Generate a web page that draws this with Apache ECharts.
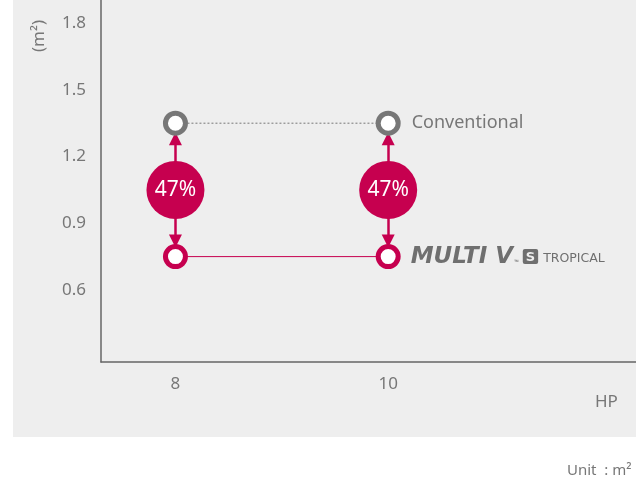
<!DOCTYPE html>
<html lang="en">
<head>
<meta charset="utf-8">
<script src="https://cdn.jsdelivr.net/npm/echarts@6/dist/echarts.min.js"></script>
<style>
  * { margin: 0; padding: 0; }
  body { background: #fff; }
</style>
</head>
<body>
<div id="main" style="width:636px;height:487px;"></div>
<script>
// data
var hpValues = [8, 10];
var conventional = [1.35, 1.35];
var multiV = [0.75, 0.75];
var saving = ['47%', '47%'];
var bubbleAt = [1.05, 1.05];
var arrowUpTo = [1.28, 1.28];
var arrowDownTo = [0.82, 0.82];
var yTicks = [0.6, 0.9, 1.2, 1.5, 1.8];

var RED = '#c6004f';
var GREY = '#777777';
var FONT = 'Noto Sans';

function pairs(ys) {
    return hpValues.map(function (x, i) { return [x, ys[i]]; });
}

var arrows = [];
hpValues.forEach(function (x, i) {
    arrows.push({ coords: [[x, bubbleAt[i]], [x, arrowUpTo[i]]] });
    arrows.push({ coords: [[x, bubbleAt[i]], [x, arrowDownTo[i]]] });
});

var myChart = echarts.init(document.getElementById('main'));

var ring = function (c) {
    return { color: '#fff', borderColor: c, borderWidth: 5 };
};

var option = {
    animation: false,
    textStyle: { fontFamily: FONT },
    grid: { left: 101, right: 0, top: 0, bottom: 125 },
    graphic: [
        { type: 'rect', z: -10, silent: true, shape: { x: 13, y: 0, width: 623, height: 437 }, style: { fill: '#eeeeee' } },
        { type: 'text', x: 31, y: 52, rotation: Math.PI / 2, style: { text: '(m²)', fill: GREY, font: '17px "Noto Sans"' } },
        { type: 'text', x: 595, y: 394, style: { text: 'HP', fill: GREY, font: '17px "Noto Sans"' } },
        { type: 'text', x: 567, y: 463, style: { text: 'Unit  : m²', fill: GREY, font: '15px "Noto Sans"' } }
    ],
    xAxis: {
        type: 'value',
        min: 7.3,
        max: 12.33,
        axisLine: { lineStyle: { color: '#666', width: 1.5 } },
        axisTick: { show: false },
        splitLine: { show: false },
        axisLabel: { customValues: hpValues, color: GREY, fontSize: 17, margin: 14 }
    },
    yAxis: {
        type: 'value',
        min: 0.276,
        max: 1.904,
        axisLine: { show: true, lineStyle: { color: '#666', width: 1.5 } },
        axisTick: { show: false },
        splitLine: { show: false },
        axisLabel: {
            customValues: yTicks, color: GREY, fontSize: 17, margin: 15,
            formatter: function (v) { return v.toFixed(1); }
        }
    },
    series: [
        {
            type: 'lines',
            coordinateSystem: 'cartesian2d',
            data: arrows,
            symbol: ['none', 'triangle'],
            symbolSize: 13,
            lineStyle: { color: RED, width: 2.5, opacity: 1 },
            z: 2
        },
        {
            type: 'line',
            data: pairs(conventional),
            symbol: 'circle',
            symbolSize: 20,
            itemStyle: ring(GREY),
            lineStyle: { color: GREY, width: 1, type: [2, 2] },
            label: {
                show: true,
                position: 'right',
                distance: 11,
                color: GREY,
                fontSize: 18,
                formatter: function (p) { return p.dataIndex === 1 ? 'Conventional' : ''; }
            },
            z: 3
        },
        {
            type: 'line',
            data: pairs(multiV),
            symbol: 'circle',
            symbolSize: 20,
            itemStyle: ring(RED),
            lineStyle: { color: RED, width: 1 },
            label: {
                show: true,
                position: 'right',
                distance: 10,
                formatter: function (p) {
                    return p.dataIndex === 1 ? '{logo|MULTI V}{tm|™}{s|S}{trop|TROPICAL}' : '';
                },
                rich: {
                    logo: { fontFamily: 'DejaVu Sans', fontWeight: 900, fontStyle: 'italic', fontSize: 23, color: '#6f6f6f' },
                    tm: { fontSize: 6, color: '#6f6f6f', padding: [12, 4, 0, 1] },
                    s: { fontFamily: 'DejaVu Sans', fontWeight: 'bold', fontSize: 13, color: '#eee', backgroundColor: '#6f6f6f', borderRadius: 2, padding: [2, 3, 0, 3] },
                    trop: { fontFamily: 'DejaVu Sans', fontSize: 12.5, color: '#6f6f6f', padding: [5, 0, 0, 5] }
                }
            },
            z: 3
        },
        {
            type: 'scatter',
            data: pairs(bubbleAt),
            symbolSize: 58,
            itemStyle: { color: RED, opacity: 1 },
            label: {
                show: true,
                position: 'inside',
                color: '#fff',
                fontSize: 21,
                formatter: function (p) { return saving[p.dataIndex]; }
            },
            z: 4
        }
    ]
};

myChart.setOption(option);
</script>
</body>
</html>
